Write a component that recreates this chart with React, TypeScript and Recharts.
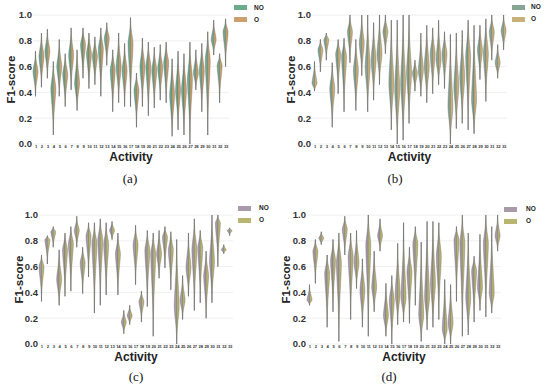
import { Bar, CartesianGrid, ComposedChart, XAxis, YAxis } from 'recharts'

const activities = [
  '1', '2', '3', '4', '5', '6', '7', '8', '9', '10', '11', '12', '13', '14', '15', '16', '17',
  '18', '19', '20', '21', '22', '23', '24', '25', '26', '27', '28', '29', '30', '31', '32', '33',
]
const seriesNames = ['NO', 'O']
const yTicks = [0, 0.2, 0.4, 0.6, 0.8, 1.0]

// (a)
const aMax = [0.72, 0.86, 0.89, 0.64, 0.81, 0.7, 0.9, 0.73, 0.9, 0.86, 0.83, 0.9, 0.94, 0.73, 0.86, 0.78, 0.98, 0.55, 0.82, 0.79, 0.75, 0.77, 0.79, 0.66, 0.72, 0.7, 0.79, 0.73, 0.78, 0.87, 0.96, 0.7, 0.97]
const aPeak = [0.56, 0.68, 0.72, 0.43, 0.6, 0.54, 0.69, 0.47, 0.77, 0.7, 0.68, 0.74, 0.82, 0.57, 0.6, 0.57, 0.78, 0.42, 0.6, 0.6, 0.57, 0.59, 0.63, 0.38, 0.42, 0.42, 0.5, 0.55, 0.57, 0.65, 0.81, 0.61, 0.87]
const aMin = [0.37, 0.44, 0.51, 0.07, 0.37, 0.29, 0.42, 0.26, 0.51, 0.43, 0.46, 0.37, 0.61, 0.25, 0.32, 0.29, 0.29, 0.13, 0.29, 0.22, 0.28, 0.34, 0.32, 0.06, 0.11, 0.07, 0.0, 0.42, 0.25, 0.07, 0.69, 0.32, 0.6]

// (b)
const bMax = [0.64, 0.81, 0.86, 0.63, 0.81, 0.82, 1.0, 0.81, 1.0, 1.0, 0.94, 1.0, 1.0, 0.96, 0.96, 1.0, 1.0, 0.65, 0.86, 0.92, 0.9, 0.96, 0.87, 0.85, 0.86, 0.88, 0.96, 0.92, 0.92, 0.97, 1.0, 0.77, 1.0]
const bPeak = [0.47, 0.73, 0.81, 0.43, 0.7, 0.68, 0.87, 0.57, 0.78, 0.6, 0.65, 0.7, 0.87, 0.47, 0.42, 0.47, 0.55, 0.55, 0.57, 0.6, 0.7, 0.65, 0.7, 0.29, 0.44, 0.52, 0.68, 0.34, 0.73, 0.7, 0.87, 0.63, 0.88]
const bMin = [0.41, 0.56, 0.65, 0.13, 0.39, 0.25, 0.63, 0.26, 0.53, 0.25, 0.34, 0.46, 0.7, 0.11, 0.0, 0.03, 0.16, 0.41, 0.37, 0.32, 0.39, 0.46, 0.43, 0.0, 0.12, 0.16, 0.11, 0.08, 0.5, 0.33, 0.65, 0.51, 0.73]

// (c)
const cMax = [0.69, 0.84, 0.91, 0.73, 0.86, 0.91, 0.99, 0.75, 0.94, 0.94, 0.97, 0.94, 0.95, 0.86, 0.26, 0.3, 0.92, 0.41, 0.88, 0.86, 0.88, 0.91, 0.87, 0.81, 0.53, 0.86, 0.97, 0.88, 0.72, 1.0, 1.0, 0.77, 0.9]
const cPeak = [0.6, 0.81, 0.87, 0.5, 0.73, 0.78, 0.88, 0.63, 0.84, 0.78, 0.81, 0.77, 0.88, 0.7, 0.17, 0.22, 0.77, 0.33, 0.73, 0.7, 0.7, 0.83, 0.73, 0.29, 0.34, 0.59, 0.73, 0.75, 0.53, 0.64, 0.94, 0.73, 0.88]
const cMin = [0.33, 0.62, 0.75, 0.3, 0.37, 0.41, 0.75, 0.39, 0.52, 0.24, 0.3, 0.38, 0.81, 0.38, 0.08, 0.15, 0.46, 0.17, 0.29, 0.06, 0.51, 0.59, 0.42, 0.0, 0.19, 0.37, 0.26, 0.32, 0.2, 0.32, 0.6, 0.7, 0.84]

// (d)
const dMax = [0.46, 0.81, 0.87, 0.69, 0.81, 0.86, 0.99, 0.86, 0.88, 0.66, 1.0, 0.72, 0.97, 0.47, 0.53, 0.78, 0.94, 0.75, 0.91, 0.79, 0.95, 0.95, 0.94, 0.5, 0.46, 0.91, 1.0, 0.86, 0.68, 0.85, 1.0, 0.91, 1.0]
const dPeak = [0.34, 0.72, 0.82, 0.55, 0.65, 0.63, 0.89, 0.68, 0.63, 0.42, 0.77, 0.44, 0.84, 0.22, 0.34, 0.39, 0.36, 0.56, 0.78, 0.22, 0.36, 0.47, 0.68, 0.11, 0.16, 0.81, 0.78, 0.36, 0.57, 0.44, 0.78, 0.39, 0.84]
const dMin = [0.3, 0.47, 0.77, 0.13, 0.25, 0.02, 0.69, 0.19, 0.43, 0.13, 0.06, 0.25, 0.72, 0.06, 0.0, 0.15, 0.17, 0.16, 0.3, 0.02, 0.11, 0.13, 0.19, 0.0, 0.0, 0.33, 0.06, 0.07, 0.17, 0.26, 0.21, 0.24, 0.72]

const FONT = '"Liberation Sans", Arial, sans-serif'

const panels = [
  { key: 'a', caption: '(a)', max: aMax, peak: aPeak, min: aMin, left: 0, top: 0, yw: 33, mt: 15, mr: 46, ylx: 11, colors: ['#6aab8c', '#c9a06e'], legend: { x: 234, y: 5, tx: 254 }, capX: 130, capY: 179 },
  { key: 'b', caption: '(b)', max: bMax, peak: bPeak, min: bMin, left: 275, top: 0, yw: 37, mt: 15, mr: 43, ylx: 16, colors: ['#86a592', '#c8b07a'], legend: { x: 512, y: 4.5, tx: 531 }, capX: 395, capY: 179 },
  { key: 'c', caption: '(c)', max: cMax, peak: cPeak, min: cMin, left: 0, top: 190, yw: 39, mt: 25, mr: 42, ylx: 19, colors: ['#a89aa8', '#b8b570'], legend: { x: 238, y: 205.5, tx: 259 }, capX: 136, capY: 377 },
  { key: 'd', caption: '(d)', max: dMax, peak: dPeak, min: dMin, left: 275, top: 190, yw: 32, mt: 25, mr: 49, ylx: 11, colors: ['#a89aa8', '#b8b570'], legend: { x: 504, y: 206.5, tx: 526 }, capX: 389, capY: 377 },
]

function Violin(props: any) {
  const { x, y, width, height, payload, colors } = props
  if (x == null || y == null) return null
  const top = Math.min(y, y + height)
  const bottom = Math.max(y, y + height)
  const span = payload.max - payload.min
  const peakY = span > 0 ? top + ((bottom - top) * (payload.max - payload.peak)) / span : top
  const cx = x + width / 2
  const hw = width / 2
  const steps = 30
  const prof: [number, number][] = []
  for (let i = 0; i <= steps; i++) {
    const yy = top + ((bottom - top) * i) / steps
    let d = 0
    if (yy < peakY) d = (peakY - yy) / Math.max(peakY - top, 0.01)
    else d = (yy - peakY) / Math.max(bottom - peakY, 0.01)
    d = Math.min(1, d)
    prof.push([yy, hw * Math.exp(-3.2 * d * d) * (1 - d * 0.5)])
  }
  const leftPath =
    `M${cx},${top} ` + prof.map(([yy, w]) => `L${cx - w},${yy}`).join(' ') + ` L${cx},${bottom} Z`
  const rightPath =
    `M${cx},${top} ` + prof.map(([yy, w]) => `L${cx + w},${yy}`).join(' ') + ` L${cx},${bottom} Z`
  return (
    <g>
      <path d={leftPath} fill={colors[0]} stroke="#5a5a5a" strokeWidth={0.35} />
      <path d={rightPath} fill={colors[1]} stroke="#5a5a5a" strokeWidth={0.35} />
    </g>
  )
}

function Panel({ p }: { p: (typeof panels)[number] }) {
  const data = activities.map((a, i) => ({ activity: a, min: p.min[i], peak: p.peak[i], max: p.max[i] }))
  return (
    <div style={{ position: 'absolute', left: p.left, top: p.top }}>
      <ComposedChart
        width={275}
        height={p.mt + 129 + 26}
        data={data}
        margin={{ top: p.mt, right: p.mr, bottom: 0, left: 0 }}
        barCategoryGap={0}
      >
        <CartesianGrid vertical={false} stroke="#ececec" strokeWidth={0.8} />
        <XAxis
          dataKey="activity"
          interval={0}
          height={26}
          axisLine={false}
          tickLine={false}
          tickSize={0}
          tickMargin={1}
          tick={{ fontSize: 4.2, fill: '#333', fontWeight: 700, fontFamily: FONT, letterSpacing: -0.2 }}
          label={{
            content: ({ viewBox }: any) => (
              <text
                x={viewBox.x + viewBox.width / 2}
                y={viewBox.y + 16.5}
                textAnchor="middle"
                fontSize={12}
                fontWeight={700}
                fontFamily={FONT}
                fill="#222"
              >
                Activity
              </text>
            ),
          }}
        />
        <YAxis
          domain={[0, 1]}
          ticks={yTicks}
          width={p.yw}
          axisLine={false}
          tickLine={false}
          tickSize={0}
          tickMargin={1}
          tickFormatter={(v: number) => v.toFixed(1)}
          tick={{ fontSize: 9.5, fill: '#333', fontWeight: 700, fontFamily: FONT }}
          label={{
            content: ({ viewBox }: any) => {
              const cy = viewBox.y + viewBox.height / 2
              return (
                <text
                  x={p.ylx}
                  y={cy}
                  transform={`rotate(-90 ${p.ylx} ${cy})`}
                  textAnchor="middle"
                  dominantBaseline="central"
                  fontSize={11.5}
                  fontWeight={700}
                  fontFamily={FONT}
                  fill="#222"
                >
                  F1-score
                </text>
              )
            },
          }}
        />
        <Bar
          dataKey={(d: any) => [d.min, d.max]}
          barSize={5}
          isAnimationActive={false}
          shape={(sp: any) => <Violin {...sp} colors={p.colors} />}
        />
      </ComposedChart>
    </div>
  )
}

export default function App() {
  return (
    <div style={{ position: 'absolute', left: 0, top: 0, width: 550, height: 389, background: '#fff', overflow: 'hidden' }}>
      {panels.map((p) => (
        <Panel key={p.key} p={p} />
      ))}
      {panels.map((p) =>
        seriesNames.map((name, i) => (
          <div key={p.key + name}>
            <div
              style={{
                position: 'absolute',
                left: p.legend.x,
                top: p.legend.y + i * 12,
                width: 13,
                height: 5,
                background: p.colors[i],
              }}
            />
            <div
              style={{
                position: 'absolute',
                left: p.legend.tx,
                top: p.legend.y + i * 12 - 1.5,
                fontSize: 6.5,
                lineHeight: '8px',
                fontWeight: 700,
                fontFamily: FONT,
                color: '#222',
              }}
            >
              {name}
            </div>
          </div>
        )),
      )}
      {panels.map((p) => (
        <div
          key={'cap' + p.key}
          style={{
            position: 'absolute',
            left: p.capX - 20,
            top: p.capY - 9,
            width: 40,
            textAlign: 'center',
            fontSize: 13,
            lineHeight: '18px',
            fontFamily: '"Liberation Serif", serif',
            color: '#111',
          }}
        >
          {p.caption}
        </div>
      ))}
    </div>
  )
}
